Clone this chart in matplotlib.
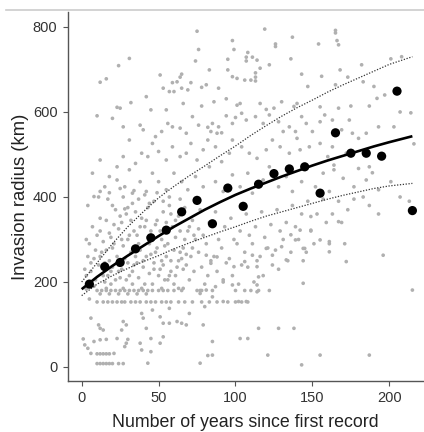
import matplotlib
matplotlib.use("Agg")
import matplotlib.pyplot as plt
from matplotlib.lines import Line2D

plt.rcParams['font.family'] = ['Liberation Sans', 'DejaVu Sans']

# Binned means (black points)
bin_x = [5, 15, 25, 35, 45, 55, 65, 75, 85, 95, 105, 115, 125, 135, 145, 155, 165, 175, 185, 195, 205, 215]
bin_y = [195, 236, 246, 278, 304, 322, 365, 392, 337, 421, 378, 430, 455, 466, 471, 409, 551, 503, 503, 496, 649, 368]

# Fitted curve and bounds
curve_x = [0, 10, 20, 30, 40, 50, 60, 70, 80, 90, 100, 110, 120, 130, 140, 150, 160, 170, 180, 190, 200, 215]
fit_y = [183, 212, 238, 262, 285, 308, 330, 350, 370, 388, 405, 420, 434, 448, 461, 474, 486, 497, 508, 519, 529, 543]
upper_y = [200, 245, 290, 330, 365, 398, 425, 450, 473, 497, 520, 545, 568, 590, 610, 628, 647, 664, 680, 696, 712, 730]
lower_y = [168, 195, 215, 232, 248, 262, 278, 292, 305, 318, 330, 343, 355, 365, 375, 385, 395, 404, 412, 420, 426, 432]

# Raw observations (grey points), grouped by region
gray_top = [(119, 795), (75, 790), (165, 792), (165, 786), (137, 776), (98, 768), (126, 760), (126, 754),
            (166, 768), (167, 758), (154, 760), (76, 747), (108, 740), (99, 747), (31, 726), (107, 729),
            (107, 720), (111, 729), (114, 722), (74, 720), (95, 724), (136, 725), (208, 730), (201, 725),
            (24, 709), (95, 699), (83, 699), (116, 703), (122, 711), (168, 699), (143, 689), (113, 692),
            (182, 711), (65, 689), (64, 682), (62, 671), (59, 669), (98, 683), (101, 679), (106, 675),
            (110, 675), (113, 673), (113, 682), (12, 670), (16, 678), (51, 687), (81, 664), (78, 658),
            (69, 652), (71, 669), (53, 656), (42, 636), (60, 648), (57, 648), (65, 656), (89, 656),
            (147, 660), (165, 664), (173, 682), (183, 671), (190, 660), (197, 640), (192, 632), (156, 684),
            (32, 622), (23, 611), (25, 609), (66, 620), (78, 614), (86, 624), (94, 631), (101, 616),
            (103, 620), (116, 620), (120, 606), (125, 609), (130, 624), (138, 613), (140, 620), (155, 612),
            (167, 609), (175, 614), (187, 614), (207, 600), (214, 598), (10, 591), (45, 605), (55, 605)]

gray_mid = [(12, 487), (7, 456), (20, 585), (27, 565), (31, 534), (38, 569), (40, 558), (48, 542),
            (52, 554), (56, 573), (59, 565), (64, 562), (68, 550), (72, 589), (76, 569), (82, 564),
            (85, 573), (89, 565), (84, 554), (88, 550), (91, 551), (94, 591), (98, 573), (100, 587),
            (104, 597), (107, 581), (113, 589), (118, 573), (122, 593), (128, 577), (131, 554), (135, 565),
            (139, 554), (143, 589), (146, 573), (150, 554), (155, 577), (158, 593), (163, 581), (169, 558),
            (174, 581), (176, 550), (180, 538), (185, 550), (193, 565), (203, 565), (216, 525), (163, 518),
            (160, 495), (164, 475), (164, 464), (172, 503), (180, 467), (187, 471), (189, 457), (155, 526),
            (148, 518), (140, 538), (142, 511), (135, 503), (129, 518), (124, 534), (120, 511), (114, 491),
            (109, 503), (104, 518), (98, 534), (96, 503), (91, 483), (87, 518), (82, 534), (79, 511),
            (75, 487), (71, 526), (68, 503), (64, 495), (59, 518), (55, 487), (50, 507), (46, 526),
            (43, 495), (39, 503), (35, 479), (31, 464), (27, 495), (23, 471), (18, 448), (15, 424),
            (12, 413), (8, 401), (23, 440), (28, 424), (33, 409), (38, 436), (42, 413), (46, 456),
            (50, 436), (55, 417), (60, 456), (65, 436), (69, 417), (74, 448), (79, 424), (83, 471),
            (87, 436), (92, 413), (98, 452), (103, 424), (108, 456), (111, 409), (118, 440), (122, 471),
            (128, 424), (133, 448), (137, 413), (143, 436), (147, 471), (152, 424), (157, 456), (161, 413),
            (170, 444), (177, 424), (185, 440), (193, 417), (201, 436)]

gray_dense = [(4, 380), (12, 350), (7, 330), (10, 310), (5, 290), (13, 270), (8, 255), (11, 240), (6, 225),
              (14, 215), (9, 205), (3, 300), (12, 320), (4, 260),
              (17, 395), (22, 370), (16, 345), (24, 325), (19, 305), (21, 290), (16, 275), (23, 260),
              (18, 250), (20, 235), (24, 225), (17, 215), (22, 205), (19, 195), (16, 185),
              (27, 400), (33, 385), (29, 360), (26, 340), (34, 320), (30, 300), (27, 285), (32, 270),
              (28, 255), (34, 240), (26, 230), (31, 215), (29, 205), (33, 195), (27, 185),
              (37, 395), (43, 375), (39, 350), (41, 330), (36, 310), (44, 290), (38, 275), (42, 260),
              (36, 245), (40, 235), (44, 220), (37, 210), (41, 195), (39, 185),
              (47, 390), (53, 365), (49, 345), (51, 320), (46, 300), (54, 285), (48, 270), (52, 250),
              (47, 230), (50, 215), (54, 205), (46, 195), (52, 185),
              (57, 380), (63, 355), (59, 330), (61, 305), (56, 290), (64, 270), (58, 250), (62, 235),
              (57, 215), (60, 195), (63, 185),
              (67, 375), (72, 345), (69, 320), (74, 300), (66, 280), (71, 260), (68, 240), (73, 225),
              (70, 205), (66, 185),
              (77, 370), (83, 340), (79, 310), (81, 290), (76, 270), (84, 250), (78, 235), (82, 215),
              (80, 195), (77, 180),
              (87, 365), (93, 330), (89, 300), (91, 280), (86, 260), (94, 245), (88, 225), (92, 200),
              (97, 350), (103, 320), (99, 300), (101, 290), (96, 255), (104, 240), (98, 215), (102, 195),
              (107, 360), (113, 330), (109, 310), (111, 290), (106, 270), (114, 250), (108, 235),
              (112, 200), (110, 180),
              (117, 365), (123, 335), (119, 305), (121, 280), (116, 260), (124, 240), (118, 215), (122, 180),
              (127, 370), (133, 340), (129, 320), (131, 300), (126, 275), (134, 250), (128, 230),
              (137, 380), (143, 360), (139, 330), (141, 300), (136, 270), (144, 250),
              (147, 390), (153, 360), (149, 320), (151, 290), (146, 270),
              (157, 395), (163, 360), (159, 340), (161, 290),
              (167, 390), (173, 370), (169, 340), (171, 290),
              (177, 395), (183, 400), (187, 380), (193, 360), (207, 400), (213, 390),
              (2, 230), (6, 245), (9, 275), (14, 295), (18, 315), (21, 335), (25, 355), (28, 372),
              (32, 345), (35, 365), (38, 330), (42, 345), (45, 320), (48, 335), (52, 300), (55, 340),
              (58, 360), (61, 345), (64, 320), (67, 300), (70, 330), (73, 310), (76, 325), (3, 215),
              (8, 190), (15, 200), (24, 240), (30, 245), (35, 260), (45, 265), (55, 260), (60, 275),
              (65, 255), (12, 260), (20, 280), (26, 300), (31, 310), (37, 290), (43, 305), (49, 280),
              (53, 240), (58, 225), (63, 250), (68, 265), (72, 280), (15, 245), (19, 225), (25, 210),
              (33, 225), (40, 250), (47, 245), (51, 230), (56, 205), (61, 215), (66, 230), (11, 400),
              (18, 410), (25, 420), (34, 415), (41, 405), (49, 410), (57, 400), (64, 395), (20, 380),
              (30, 375), (44, 385), (53, 390)]

gray_band = [(10, 153), (14, 153), (17, 153), (20, 153), (23, 153), (26, 153), (28, 153), (32, 153),
             (35, 153), (38, 153), (42, 153), (45, 153), (48, 153), (52, 153), (55, 153), (58, 153),
             (63, 153), (67, 153), (72, 153), (78, 153), (83, 153), (88, 153), (95, 153), (100, 153),
             (104, 153), (108, 153),
             (10, 180), (13, 180), (16, 180), (19, 180), (22, 180), (25, 180), (28, 180), (31, 180),
             (34, 180), (37, 180), (40, 180), (43, 180), (46, 180), (50, 180), (53, 180), (56, 180),
             (60, 180), (65, 180), (75, 180), (78, 180), (85, 180), (100, 180), (106, 180), (115, 180),
             (12, 172), (18, 172), (24, 172), (30, 172), (36, 172), (42, 172), (3, 183), (5, 160)]

gray_low = [(1, 66), (2, 52), (4, 44), (6, 32), (10, 31), (12, 31), (14, 31), (16, 31), (18, 31), (21, 32),
            (10, 8), (12, 8), (14, 8), (16, 8), (18, 8), (20, 8), (24, 8), (27, 8), (43, 9), (77, 9),
            (143, 5), (6, 115), (11, 99), (12, 91), (14, 87), (8, 60), (12, 64), (16, 65), (23, 67),
            (30, 65), (29, 56), (28, 48), (26, 87), (27, 107), (29, 99), (38, 56), (39, 40), (42, 91),
            (40, 115), (45, 67), (45, 36), (51, 56), (53, 103), (53, 71), (57, 103), (62, 107), (68, 99),
            (79, 99), (85, 60), (85, 28), (82, 27), (108, 67), (103, 67), (115, 91), (121, 28), (128, 91),
            (138, 91), (155, 28), (187, 28), (144, 197), (215, 181), (196, 263), (172, 248), (161, 295),
            (161, 271), (167, 342), (142, 322), (145, 279), (114, 177), (107, 154), (102, 154), (92, 154),
            (81, 263), (84, 244), (88, 259), (92, 205), (98, 193), (99, 236), (106, 248), (111, 263),
            (114, 236), (115, 212), (114, 193), (120, 279), (124, 263), (130, 283), (133, 252), (136, 311),
            (139, 299), (144, 279), (149, 322), (149, 354), (155, 299), (39, 126), (46, 134), (51, 118),
            (57, 138), (65, 103), (70, 126), (77, 173), (81, 181), (87, 189), (85, 165), (80, 142)]

xticks = [0, 50, 100, 150, 200]
yticks = [0, 200, 400, 600, 800]

fig = plt.figure(figsize=(4.24, 4.32), dpi=100)
ax = fig.add_axes([0.160, 0.118, 0.838, 0.854])

for grp in (gray_top, gray_mid, gray_dense, gray_band, gray_low):
    gx = [p[0] for p in grp]
    gy = [p[1] for p in grp]
    ax.scatter(gx, gy, s=7, color='#b0b0b0', edgecolors='none', zorder=1)

ax.plot(curve_x, upper_y, color='#333333', lw=0.9, ls=(0, (1, 1.3)), zorder=2)
ax.plot(curve_x, lower_y, color='#333333', lw=0.9, ls=(0, (1, 1.3)), zorder=2)
ax.plot(curve_x, fit_y, color='black', lw=1.9, zorder=3, solid_capstyle='butt')
ax.scatter(bin_x, bin_y, s=44, color='black', edgecolors='none', zorder=4)

ax.set_xlim(-9, 222)
ax.set_ylim(-33, 835)
ax.set_xticks(xticks)
ax.set_yticks(yticks)
ax.tick_params(axis='both', direction='out', length=3.5, width=0.8, color='#555555',
               labelsize=10.5, labelcolor='#333333', pad=4)
for s in ('top', 'right'):
    ax.spines[s].set_visible(False)
for s in ('left', 'bottom'):
    ax.spines[s].set_color('#555555')
    ax.spines[s].set_linewidth(1.0)

ax.set_xlabel('Number of years since first record', fontsize=12.8, color='#222222', labelpad=6)
ax.set_ylabel('Invasion radius (km)', fontsize=13.3, color='#222222', labelpad=3)

fig.add_artist(Line2D([0.015, 1.0], [0.977, 0.977], transform=fig.transFigure,
                      color='#cccccc', lw=1.2))

fig.savefig('out.png', dpi=100)
